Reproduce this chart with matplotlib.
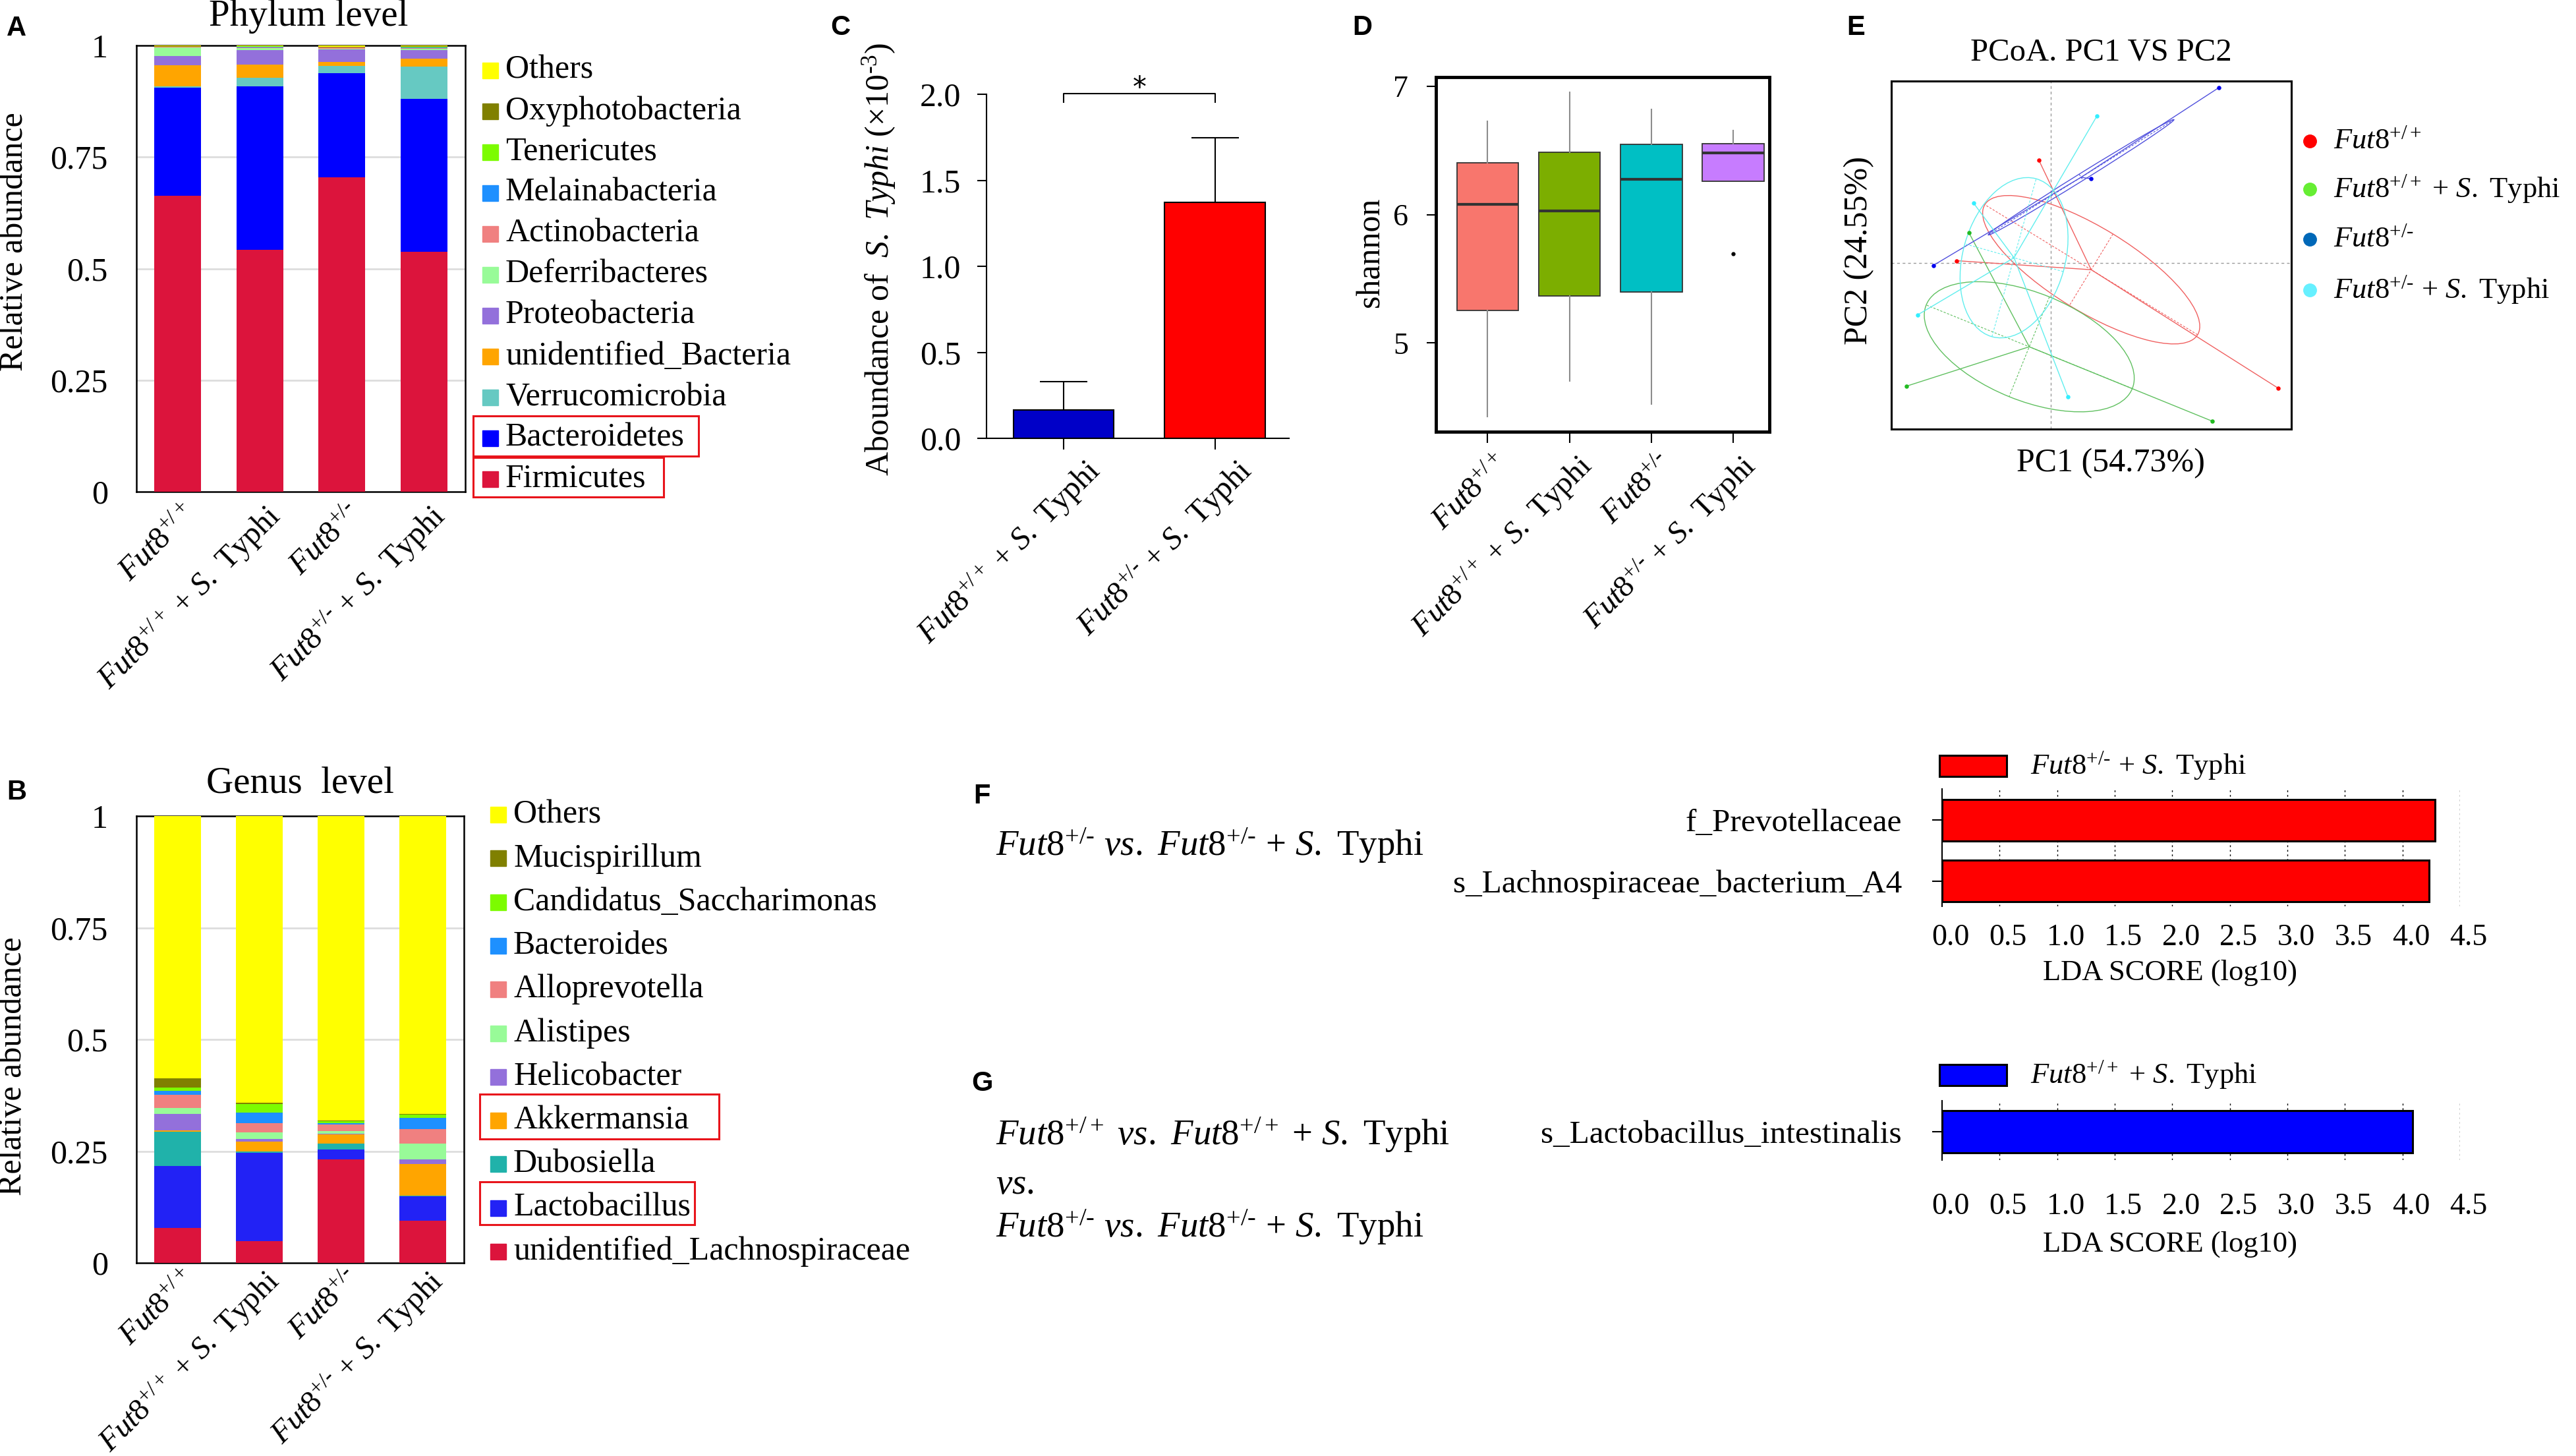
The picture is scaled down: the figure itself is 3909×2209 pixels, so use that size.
import numpy as np
import matplotlib
matplotlib.use('Agg')
import matplotlib.pyplot as plt
from matplotlib.patches import Rectangle, Ellipse
from matplotlib.lines import Line2D
from matplotlib.transforms import blended_transform_factory, ScaledTranslation

plt.rcParams['font.family'] = ['Liberation Serif', 'DejaVu Serif']
plt.rcParams['mathtext.fontset'] = 'custom'
plt.rcParams['mathtext.rm'] = 'Liberation Serif'
plt.rcParams['mathtext.it'] = 'Liberation Serif:italic'
plt.rcParams['mathtext.bf'] = 'Liberation Serif:bold'

HY = '\u2010'  # short hyphen used in the genotype superscripts

# ------------------------------------------------------------------ data
group_labels = [r'$\mathit{Fut8}^{+/+}$',
                r'$\mathit{Fut8}^{+/+}$ + $\mathit{S.}$ Typhi',
                r'$\mathit{Fut8}^{+/' + HY + r'}$',
                r'$\mathit{Fut8}^{+/' + HY + r'}$ + $\mathit{S.}$ Typhi']

# Panel A: phylum level relative abundance (bottom -> top)
phylum_names = ['Firmicutes', 'Bacteroidetes', 'Verrucomicrobia', 'unidentified_Bacteria',
                'Proteobacteria', 'Deferribacteres', 'Actinobacteria', 'Melainabacteria',
                'Tenericutes', 'Oxyphotobacteria', 'Others']
firmicutes = [0.663, 0.542, 0.705, 0.537]
bacteroidetes = [0.243, 0.367, 0.233, 0.343]
verrucomicrobia = [0.003, 0.019, 0.016, 0.072]
unidentified_bacteria = [0.047, 0.029, 0.009, 0.018]
proteobacteria = [0.021, 0.033, 0.028, 0.020]
deferribacteres = [0.018, 0.004, 0.002, 0.002]
actinobacteria = [0.002, 0.002, 0.002, 0.002]
melainabacteria = [0.000, 0.001, 0.000, 0.002]
tenericutes = [0.000, 0.001, 0.001, 0.001]
oxyphotobacteria = [0.001, 0.001, 0.001, 0.001]
phylum_others = [0.002, 0.001, 0.003, 0.002]
phylum_colors = ['#DC143C', '#0000FF', '#66C9C2', '#FFA500', '#9370DB', '#98FB98',
                 '#F08080', '#1E90FF', '#7CFC00', '#808000', '#FFFF00']

# Panel B: genus level relative abundance (bottom -> top)
genus_names = ['unidentified_Lachnospiraceae', 'Lactobacillus', 'Dubosiella', 'Akkermansia',
               'Helicobacter', 'Alistipes', 'Alloprevotella', 'Bacteroides',
               'Candidatus_Saccharimonas', 'Mucispirillum', 'Others']
lachnospiraceae = [0.078, 0.048, 0.232, 0.094]
lactobacillus = [0.139, 0.198, 0.022, 0.055]
dubosiella = [0.076, 0.004, 0.013, 0.001]
akkermansia = [0.003, 0.021, 0.020, 0.071]
helicobacter = [0.037, 0.007, 0.002, 0.011]
alistipes = [0.013, 0.014, 0.006, 0.035]
alloprevotella = [0.030, 0.021, 0.014, 0.033]
bacteroides = [0.009, 0.023, 0.003, 0.024]
saccharimonas = [0.008, 0.020, 0.005, 0.008]
mucispirillum = [0.020, 0.002, 0.001, 0.001]
genus_others = [0.587, 0.642, 0.682, 0.667]
genus_colors = ['#DC143C', '#2222F5', '#20B2AA', '#FFA500', '#9370DB', '#98FB98',
                '#F08080', '#1E90FF', '#7CFC00', '#808000', '#FFFF00']

# Panel C: abundance of S. Typhi (x10^-3)
typhi_labels = [group_labels[1], group_labels[3]]
typhi_mean = [0.166, 1.370]
typhi_err = [0.164, 0.376]
typhi_colors = ['#0000C8', '#FF0000']

# Panel D: shannon index box statistics
shannon_q1 = [5.252, 5.364, 5.397, 6.258]
shannon_med = [6.081, 6.028, 6.277, 6.482]
shannon_q3 = [6.405, 6.488, 6.549, 6.553]
shannon_lo = [4.426, 4.701, 4.525, 6.258]
shannon_hi = [6.726, 6.951, 6.818, 6.657]
shannon_outliers = [[], [], [], [5.696]]
shannon_colors = ['#F8766D', '#7CAE00', '#00BFC4', '#C77CFF']

# Panel E: PCoA coordinates (PC1, PC2)
pc_wt_x = [-0.018, -0.143, 0.345]
pc_wt_y = [0.155, 0.003, -0.190]
pc_wtS_x = [-0.124, -0.219, 0.245]
pc_wtS_y = [0.045, -0.187, -0.240]
pc_het_x = [0.255, 0.061, -0.178]
pc_het_y = [0.265, 0.127, -0.004]
pc_hetS_x = [0.070, -0.117, -0.202, 0.026]
pc_hetS_y = [0.222, 0.090, -0.079, -0.203]
pcoa_point_colors = ['#FF0000', '#22BB22', '#0000EE', '#33EEFF']
pcoa_line_colors = ['#F06060', '#60C060', '#5050DD', '#60EEEE']
pcoa_legend_colors = ['#FF0000', '#66EE33', '#0068B8', '#66F0FF']
pcoa_legend = group_labels

# Panels F, G: LEfSe LDA scores
lda_F_names = ['f_Prevotellaceae', 's_Lachnospiraceae_bacterium_A4']
lda_F_scores = [4.28, 4.23]
lda_G_names = ['s_Lactobacillus_intestinalis']
lda_G_scores = [4.09]
lda_ticks = [0.0, 0.5, 1.0, 1.5, 2.0, 2.5, 3.0, 3.5, 4.0, 4.5]

# ------------------------------------------------------------------ layout helpers
W, H = 3909, 2209
DPI = 100
fig = plt.figure(figsize=(W / DPI, H / DPI), dpi=DPI)


def fx(x):
    return x / W


def fy(y):
    return 1 - y / H


def add_ax(l, t, r, b):
    return fig.add_axes([l / W, 1 - b / H, (r - l) / W, (b - t) / H])


def ftext(x, y, s, **kw):
    return fig.text(fx(x), fy(y), s, **kw)


def rot_labels(ax, positions, labels, fs, dx, dy):
    tr = blended_transform_factory(ax.transData, ax.transAxes) + \
        ScaledTranslation(dx / DPI, -dy / DPI, fig.dpi_scale_trans)
    for p, lab in zip(positions, labels):
        ax.text(p, 0, lab, transform=tr, rotation=45, ha='right', va='top',
                rotation_mode='anchor', fontsize=fs, clip_on=False)


def fig_box(l, t, r, b, color='#E8141B', lw=2.2):
    fig.add_artist(Rectangle((fx(l), fy(b)), (r - l) / W, (b - t) / H,
                             transform=fig.transFigure, fill=False,
                             edgecolor=color, linewidth=lw))


def panel_label(x, y, s):
    ftext(x, y, s, fontsize=30, fontweight='bold', family='Liberation Sans',
          ha='center', va='center')


def stacked_panel(ax, layers, colors, names, title_xy, title, leg_sq_x, leg_tx,
                  leg_y0, leg_dy):
    xpos = np.arange(4)
    bottom = np.zeros(4)
    for vals, c in zip(layers, colors):
        ax.bar(xpos, vals, width=0.57, bottom=bottom, color=c, edgecolor='none', zorder=3)
        bottom += np.array(vals)
    ax.set_xlim(-0.5, 3.5)
    ax.set_ylim(0, 1)
    for g in [0.25, 0.5, 0.75]:
        ax.axhline(g, color='#DDDDDD', lw=2, zorder=1)
    ax.set_yticks([0, 0.25, 0.5, 0.75, 1])
    ax.set_yticklabels(['0', '0.25', '0.5', '0.75', '1'], fontsize=36)
    ax.tick_params(axis='y', length=0, pad=31)
    ax.set_xticks([])
    for s in ax.spines.values():
        s.set_linewidth(1.8)
    ftext(title_xy[0], title_xy[1], title, fontsize=41, ha='center', va='center')
    # legend (top -> bottom)
    for i, (n, c) in enumerate(zip(names[::-1], colors[::-1])):
        y = leg_y0 + i * leg_dy
        fig.add_artist(Rectangle((fx(leg_sq_x - 12), fy(y + 12)), 24 / W, 24 / H,
                                 transform=fig.transFigure, color=c))
        ftext(leg_tx, y, n, fontsize=36, ha='left', va='center')


# ------------------------------------------------------------------ Panel A
axA = add_ax(207, 69, 706, 746)
stacked_panel(axA, [firmicutes, bacteroidetes, verrucomicrobia, unidentified_bacteria,
                    proteobacteria, deferribacteres, actinobacteria, melainabacteria,
                    tenericutes, oxyphotobacteria, phylum_others],
              phylum_colors, phylum_names, (468, 25), 'Phylum level', 744, 767, 106.5, 62.0)
rot_labels(axA, np.arange(4), group_labels, 34.5, 6, 12)
ftext(22, 367, 'Relative abundance', fontsize=36, rotation=90, ha='center', va='center')
fig_box(718, 631, 1060, 692)
fig_box(718, 694, 1007, 754)
panel_label(25, 43, 'A')

# ------------------------------------------------------------------ Panel B
axB = add_ax(207, 1238, 704, 1916)
stacked_panel(axB, [lachnospiraceae, lactobacillus, dubosiella, akkermansia, helicobacter,
                    alistipes, alloprevotella, bacteroides, saccharimonas, mucispirillum,
                    genus_others],
              genus_colors, genus_names, (455, 1189), 'Genus  level', 756, 779, 1236.0, 66.3)
rot_labels(axB, np.arange(4), group_labels, 34, 6, 4)
ftext(20, 1618, 'Relative abundance', fontsize=36, rotation=90, ha='center', va='center')
fig_box(728, 1660, 1091, 1728)
fig_box(728, 1793, 1054, 1858)
panel_label(25, 1202, 'B')

# ------------------------------------------------------------------ Panel C
axC = add_ax(1497, 143, 1956, 665)
xc = np.arange(2)
axC.bar(xc, typhi_mean, width=0.665, color=typhi_colors, edgecolor='black', linewidth=1.5,
        zorder=3)
axC.errorbar(xc, typhi_mean, yerr=[np.zeros(2), typhi_err], fmt='none', ecolor='black',
             elinewidth=1.5, capsize=26, capthick=1.5, zorder=2)
axC.set_xlim(-0.51, 1.49)
axC.set_ylim(0, 2.0)
axC.spines['top'].set_visible(False)
axC.spines['right'].set_visible(False)
axC.spines['left'].set_linewidth(1.5)
axC.spines['bottom'].set_linewidth(1.5)
axC.set_yticks([0, 0.5, 1.0, 1.5, 2.0])
axC.set_yticklabels(['0.0', '0.5', '1.0', '1.5', '2.0'], fontsize=36)
axC.tick_params(axis='y', length=10, width=1.5, pad=18)
axC.set_xticks(xc)
axC.set_xticklabels([])
axC.tick_params(axis='x', length=12, width=1.5)
rot_labels(axC, xc, typhi_labels, 34.5, 30, 24)
axC.plot([0, 0, 1, 1], [1.955, 2.005, 2.005, 1.955], color='black', lw=1.5, clip_on=False)
axC.text(0.5, 2.035, '*', fontsize=30, ha='center', va='center', family='DejaVu Sans')
ftext(1334, 393, r'Aboundance of  $\mathit{S.\ Typhi}$ (×10$^{' + HY + r'3}$)', fontsize=36,
      rotation=90, ha='center', va='center')
panel_label(1275, 42, 'C')

# ------------------------------------------------------------------ Panel D
axD = add_ax(2179, 117, 2685, 655)
stats = []
for i in range(4):
    stats.append(dict(med=shannon_med[i], q1=shannon_q1[i], q3=shannon_q3[i],
                      whislo=shannon_lo[i], whishi=shannon_hi[i],
                      fliers=shannon_outliers[i]))
bp = axD.bxp(stats, positions=[1, 2, 3, 4], widths=0.754, patch_artist=True,
             showcaps=False,
             boxprops=dict(edgecolor='#333333', linewidth=1.3),
             medianprops=dict(color='#333333', linewidth=3),
             whiskerprops=dict(color='#8C8C8C', linewidth=1.5),
             flierprops=dict(marker='o', markersize=3.5, markerfacecolor='black',
                             markeredgecolor='black'))
for patch, c in zip(bp['boxes'], shannon_colors):
    patch.set_facecolor(c)
axD.set_xlim(0.368, 4.443)
axD.set_ylim(4.308, 7.071)
for s in axD.spines.values():
    s.set_linewidth(3.5)
axD.set_yticks([5, 6, 7])
axD.set_yticklabels(['5', '6', '7'], fontsize=33)
axD.tick_params(axis='y', length=10, width=1.5, pad=20)
axD.set_xticks([1, 2, 3, 4])
axD.set_xticklabels([])
axD.tick_params(axis='x', length=12, width=1.5, pad=2)
rot_labels(axD, [1, 2, 3, 4], group_labels, 34, 10, 28)
ftext(2080, 383, 'shannon', fontsize=36, rotation=90, ha='center', va='center')
panel_label(2067, 42, 'D')

# ------------------------------------------------------------------ Panel E
axE = add_ax(2870, 123, 3477, 651)
axE.set_xlim(-0.242, 0.365)
axE.set_ylim(-0.252, 0.275)
axE.set_xticks([])
axE.set_yticks([])
for s in axE.spines.values():
    s.set_linewidth(2.2)
axE.axhline(0, color='#9A9A9A', lw=1.0, ls=(0, (3, 3)), zorder=1)
axE.axvline(0, color='#9A9A9A', lw=1.0, ls=(0, (3, 3)), zorder=1)
ELLIPSE_SCALE = 0.65
pcoa_groups = [(pc_wt_x, pc_wt_y), (pc_wtS_x, pc_wtS_y), (pc_het_x, pc_het_y),
               (pc_hetS_x, pc_hetS_y)]
for (gx, gy), pc, lc in zip(pcoa_groups, pcoa_point_colors, pcoa_line_colors):
    gx = np.array(gx)
    gy = np.array(gy)
    cx, cy = gx.mean(), gy.mean()
    for px_, py_ in zip(gx, gy):
        axE.plot([cx, px_], [cy, py_], color=lc, lw=1.0, zorder=3)
    cov = np.cov(gx, gy)
    vals, vecs = np.linalg.eigh(cov)
    order = vals.argsort()[::-1]
    vals, vecs = vals[order], vecs[:, order]
    a = ELLIPSE_SCALE * np.sqrt(vals[0])
    b = ELLIPSE_SCALE * np.sqrt(vals[1])
    ang = np.degrees(np.arctan2(vecs[1, 0], vecs[0, 0]))
    axE.add_patch(Ellipse((cx, cy), 2 * a, 2 * b, angle=ang, fill=False,
                          edgecolor=lc, lw=1.0, zorder=3))
    v1, v2 = vecs[:, 0], vecs[:, 1]
    axE.plot([cx - a * v1[0], cx + a * v1[0]], [cy - a * v1[1], cy + a * v1[1]],
             color=lc, lw=0.8, ls=(0, (3, 2)), zorder=3)
    axE.plot([cx - b * v2[0], cx + b * v2[0]], [cy - b * v2[1], cy + b * v2[1]],
             color=lc, lw=0.8, ls=(0, (3, 2)), zorder=3)
    axE.scatter(gx, gy, s=22, color=pc, zorder=4, linewidths=0)
ftext(3188, 79, 'PCoA. PC1 VS PC2', fontsize=35, ha='center', va='center')
ftext(3203, 703, 'PC1 (54.73%)', fontsize=36, ha='center', va='center')
ftext(2821, 380, 'PC2 (24.55%)', fontsize=36, rotation=90, ha='center', va='center')
for i, (lab, c) in enumerate(zip(pcoa_legend, pcoa_legend_colors)):
    y = [214, 287, 363, 440][i]
    fig.add_artist(Line2D([fx(3505)], [fy(y)], marker='o', markersize=14, color=c,
                          linestyle='none', transform=fig.transFigure))
    ftext(3541, y, lab, fontsize=32, ha='left', va='center')
panel_label(2816, 42, 'E')


# ------------------------------------------------------------------ Panels F, G
def lda_panel(ax, names, scores, color, ylim, bar_h, tick_pad, leg_y, leg_text, lda_y):
    yy = np.arange(len(names))
    ax.barh(yy, scores, height=bar_h, color=color, edgecolor='black', linewidth=2.2,
            zorder=3)
    ax.set_xlim(0, 4.5)
    ax.set_ylim(*ylim)
    for t in lda_ticks[1:]:
        ax.axvline(t, color='black', lw=1.0, ls=(0, (2, 3)), zorder=1)
    for s in ['top', 'right', 'bottom']:
        ax.spines[s].set_visible(False)
    ax.spines['left'].set_linewidth(1.5)
    ax.set_xticks(lda_ticks)
    ax.set_xticklabels(['%.1f' % t for t in lda_ticks], fontsize=33)
    ax.tick_params(axis='x', length=0, pad=tick_pad)
    off = ScaledTranslation(13 / DPI, 0, fig.dpi_scale_trans)
    for lab in ax.get_xticklabels():
        lab.set_transform(lab.get_transform() + off)
    ax.set_yticks(yy)
    ax.set_yticklabels(names, fontsize=35.5)
    ax.tick_params(axis='y', length=11, width=1.5, pad=33)
    fig.add_artist(Rectangle((fx(2943), fy(leg_y + 16)), 102 / W, 32 / H,
                             transform=fig.transFigure, facecolor=color,
                             edgecolor='black', linewidth=2.2))
    ftext(3081, leg_y, leg_text, fontsize=32, ha='left', va='center')
    ftext(3293, lda_y, 'LDA SCORE (log10)', fontsize=32, ha='center', va='center')


axF = add_ax(2947, 1197, 3733, 1375)
lda_panel(axF, lda_F_names, lda_F_scores, '#FF0000', (1.418, -0.516), 0.685, 19,
          1162, group_labels[3], 1476)
axG = add_ax(2947, 1670, 3733, 1760)
lda_panel(axG, lda_G_names, lda_G_scores, '#0000FF', (0.467, -0.511), 0.696, 36,
          1631, group_labels[1], 1888)

het = r'$\mathit{Fut8}^{+/' + HY + r'}$'
wt = r'$\mathit{Fut8}^{+/+}$'
vs = r'$\mathit{vs.}$'
typ = r'$\mathit{S.}$ Typhi'
ftext(1511, 1283, het + ' ' + vs + ' ' + het + ' + ' + typ, fontsize=39.5, ha='left', va='center')
ftext(1511, 1722, wt + ' ' + vs + ' ' + wt + ' + ' + typ, fontsize=39.5, ha='left', va='center')
ftext(1511, 1798, vs, fontsize=39.5, ha='left', va='center')
ftext(1511, 1862, het + ' ' + vs + ' ' + het + ' + ' + typ, fontsize=39.5, ha='left', va='center')
panel_label(1490, 1208, 'F')
panel_label(1490, 1644, 'G')

fig.savefig('out.png', dpi=DPI)
